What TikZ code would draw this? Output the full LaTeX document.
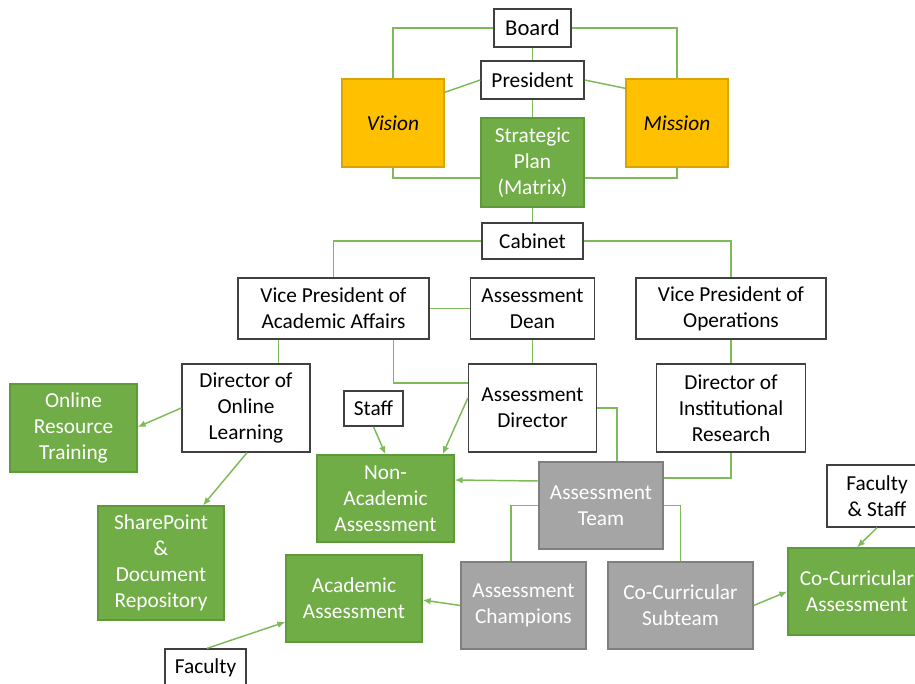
\documentclass[tikz,border=0pt]{standalone}
\usepackage{fontspec}
\setmainfont{Carlito}
\usetikzlibrary{arrows.meta,calc}

\definecolor{boxgreen}{HTML}{70AD47}
\definecolor{greenedge}{HTML}{5E9A3A}
\definecolor{linkgreen}{HTML}{7DBB58}
\definecolor{boxgold}{HTML}{FFC000}
\definecolor{goldedge}{HTML}{D9A400}
\definecolor{boxgrey}{HTML}{A5A5A5}
\definecolor{greyedge}{HTML}{7F7F7F}
\definecolor{inkedge}{HTML}{404040}

\tikzset{
  sz/.style 2 args={minimum width={#1*0.75pt}, minimum height={#2*0.75pt}},
  base/.style={rectangle, inner sep=0pt, align=center,
    font=\fontsize{16pt}{19.5pt}\selectfont, line width=1pt},
  plainbox/.style={base, draw=inkedge, fill=white, text=black},
  greenbox/.style={base, draw=greenedge, fill=boxgreen, text=white},
  goldbox/.style={base, draw=goldedge, fill=boxgold, text=black,
    font=\fontsize{16pt}{19.5pt}\selectfont\itshape},
  greybox/.style={base, draw=greyedge, fill=boxgrey, text=white},
  link/.style={draw=linkgreen, line width=1.1pt},
  arrowlink/.style={link, -{Latex[length=6pt,width=5pt]}},
}

\begin{document}
\begin{tikzpicture}[x=0.75pt, y=-0.75pt]
\useasboundingbox (0,0) rectangle (915,684);
\clip (0,0) rectangle (915,684);

% governance
\node[plainbox, sz={77}{38}, font=\fontsize{17pt}{20pt}\selectfont] (board) at (532.5,28) {Board};
\node[plainbox, sz={103}{38}] (pres) at (532.5,80) {President};
\node[goldbox, sz={102}{88}] (vision) at (393,123) {Vision};
\node[goldbox, sz={102}{88}] (mission) at (677,123) {Mission};
\node[greenbox, sz={103}{89}] (plan) at (532.5,162.5) {Strategic\\Plan\\(Matrix)};
\node[plainbox, sz={101}{36}] (cabinet) at (532.5,241) {Cabinet};

% administration
\node[plainbox, sz={191}{61}] (vpaa) at (333.5,308.5) {Vice President of\\Academic Affairs};
\node[plainbox, sz={124}{61}] (dean) at (532.5,308.5) {Assessment\\Dean};
\node[plainbox, sz={190}{61}] (vpo) at (731,308.5) {Vice President of\\Operations};
\node[plainbox, sz={128}{88}] (dol) at (246,408) {Director of\\Online\\Learning};
\node[plainbox, sz={128}{88}] (adir) at (532.5,408) {Assessment\\Director};
\node[plainbox, sz={149}{88}] (dir) at (731,408) {Director of\\Institutional\\Research};
\node[plainbox, sz={59}{35}] (staff) at (373.5,408.5) {Staff};

% outcomes and teams
\node[greenbox, sz={127}{88}] (ort) at (73.5,428) {Online\\Resource\\Training};
\node[greenbox, sz={126}{114}] (sp) at (161,563) {SharePoint\\\&\\Document\\Repository};
\node[greenbox, sz={137}{87}] (naa) at (385.5,498.5) {Non-\\Academic\\Assessment};
\node[greybox, sz={124}{87}] (team) at (601,505.5) {Assessment\\Team};
\node[greybox, sz={125}{87}] (champ) at (523.5,605.5) {Assessment\\Champions};
\node[greybox, sz={145}{87}] (ccs) at (680.5,605.5) {Co-Curricular\\Subteam};
\node[greenbox, sz={136}{87}] (aa) at (354,598.5) {Academic\\Assessment};
\node[plainbox, sz={81}{38}] (faculty) at (205.5,668) {Faculty};
\node[plainbox, sz={100}{62}] (fs) at (877,496) {Faculty\\\& Staff};
\node[greenbox, sz={138}{87}] (cca) at (857,591.5) {Co-Curricular\\Assessment};

% governance links
\draw[link] (board.west) -| (vision.north);
\draw[link] (board.east) -| (mission.north);
\draw[link] (board.south) -- (pres.north);
\draw[link] (pres.west) -- ($(vision.north east)+(0,14)$);
\draw[link] (pres.east) -- ($(mission.north west)+(0,10)$);
\draw[link] (vision.south) |- ($(plan.west)+(0,15.5)$);
\draw[link] (mission.south) |- ($(plan.east)+(0,15.5)$);
\draw[link] (pres.south) -- (plan.north);
\draw[link] (plan.south) -- (cabinet.north);

% administration links
\draw[link] (cabinet.west) -| (vpaa.north);
\draw[link] (cabinet.east) -| (vpo.north);
\draw[link] (vpaa.east) -- (dean.west);
\draw[link] (dean.south) -- (adir.north);
\draw[link] (vpo.south) -- (dir.north);
\draw[link] ($(vpaa.south east)+(-36,0)$) |- ($(adir.west)+(0,-25)$);
\coordinate (dolin) at ($(vpaa.south west)+(41,0)$);
\draw[link] (dolin) -- (dolin |- dol.north);

% arrows to outcomes
\draw[arrowlink] (dol.west) -- ($(ort.east)+(0,-1)$);
\draw[arrowlink] ($(dol.south)+(1,0)$) -- ($(sp.north)+(42,0)$);
\draw[arrowlink] (staff.south) -- (naa.north);
\draw[arrowlink] ($(adir.west)+(0,-10)$) -- ($(naa.north east)+(-12,0)$);
\draw[link] (adir.east) -| ($(team.north)+(16,0)$);
\draw[link] (dir.south) |- ($(team.east)+(0,-27.5)$);
\draw[arrowlink] ($(team.west)+(0,-24.5)$) -- ($(naa.east)+(0,-18.5)$);
\draw[link] (team.west) -| ($(champ.north)+(-12.5,0)$);
\draw[link] (team.east) -| (ccs.north);
\draw[arrowlink] (champ.west) -- ($(aa.east)+(0,1.5)$);
\draw[arrowlink] ($(faculty.north)+(1.5,0)$) -- ($(aa.west)+(0,23.5)$);
\draw[arrowlink] (ccs.east) -- (cca.west);
\draw[arrowlink] (fs.south) -- (cca.north);
\end{tikzpicture}
\end{document}
